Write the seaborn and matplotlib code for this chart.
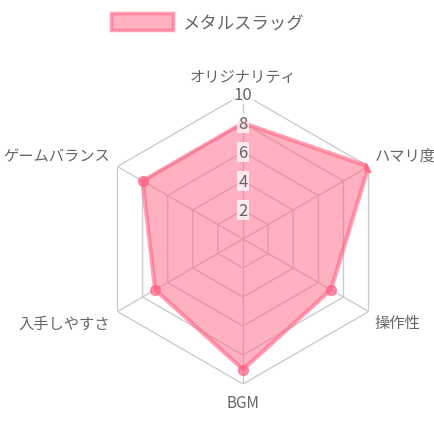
import numpy as np
import matplotlib
matplotlib.use("Agg")
import matplotlib.pyplot as plt
import matplotlib.patches as patches
import seaborn as sns

# data
categories = ["オリジナリティ", "ハマリ度", "操作性", "BGM", "入手しやすさ", "ゲームバランス"]
scores = [8, 10, 7, 9, 7, 8]
series_name = "メタルスラッグ"
r_ticks = [2, 4, 6, 8, 10]
r_max = 10

pink = (1.0, 0.388, 0.518)
grid_color = "#cccccc"
text_color = "#666666"

sns.set_style("white")
plt.rcParams['font.family'] = ['Noto Sans CJK JP', 'DejaVu Sans']

fig = plt.figure(figsize=(4.35, 4.35), dpi=100)
ax = fig.add_axes([0.2253, 0.1149, 0.6667, 0.6667], projection='polar')
ax.set_theta_offset(np.pi / 2)
ax.set_theta_direction(-1)
ax.set_ylim(0, r_max)

n = len(categories)
theta = np.linspace(0, 2 * np.pi, n, endpoint=False)
theta_closed = np.append(theta, theta[0])

# hexagon grid + spokes
for r in r_ticks:
    ax.plot(theta_closed, [r] * (n + 1), color=grid_color, lw=1, zorder=1)
for t in theta:
    ax.plot([t, t], [0, r_max], color=grid_color, lw=1, zorder=1)

ax.grid(False)
ax.spines['polar'].set_visible(False)
ax.set_xticks([])
ax.set_yticks([])

# data polygon
vals_closed = scores + scores[:1]
ax.fill(theta_closed, vals_closed, color=pink, alpha=0.5, lw=0, zorder=2)
ax.plot(theta_closed, vals_closed, color=pink, alpha=0.6, lw=3, zorder=3)
sns.scatterplot(x=theta, y=scores, ax=ax, color=pink, alpha=0.7, s=50,
                edgecolor=pink, linewidth=1, zorder=4)
ax.set_xlabel("")
ax.set_ylabel("")

# radial tick labels
for r in r_ticks:
    ax.text(0, r, str(r), ha='center', va='center', fontsize=12, color=text_color,
            zorder=5, bbox=dict(boxstyle='square,pad=0.1', fc='white', ec='none', alpha=0.75))

# category labels
offsets = [(0, 9, 'center', 'bottom'), (6, 11, 'left', 'center'), (6, -11, 'left', 'center'),
           (0, -18, 'center', 'center'), (-7, -12, 'right', 'center'), (-7, 11, 'right', 'center')]
for t, lab, (dx, dy, ha, va) in zip(theta, categories, offsets):
    ax.annotate(lab, xy=(t, r_max), xytext=(dx, dy), textcoords='offset pixels',
                ha=ha, va=va, fontsize=11, color=text_color, annotation_clip=False)

# legend
handle = patches.Patch(facecolor=(*pink, 0.5), edgecolor=(*pink, 0.6), linewidth=2.5,
                       label=series_name)
fig.legend(handles=[handle], loc='center', bbox_to_anchor=(207 / 435, 1 - 23 / 435),
           frameon=False, fontsize=12.5, handlelength=3.6, handleheight=1.2,
           handletextpad=0.5, labelcolor=text_color)

fig.savefig("out.png", dpi=100)
